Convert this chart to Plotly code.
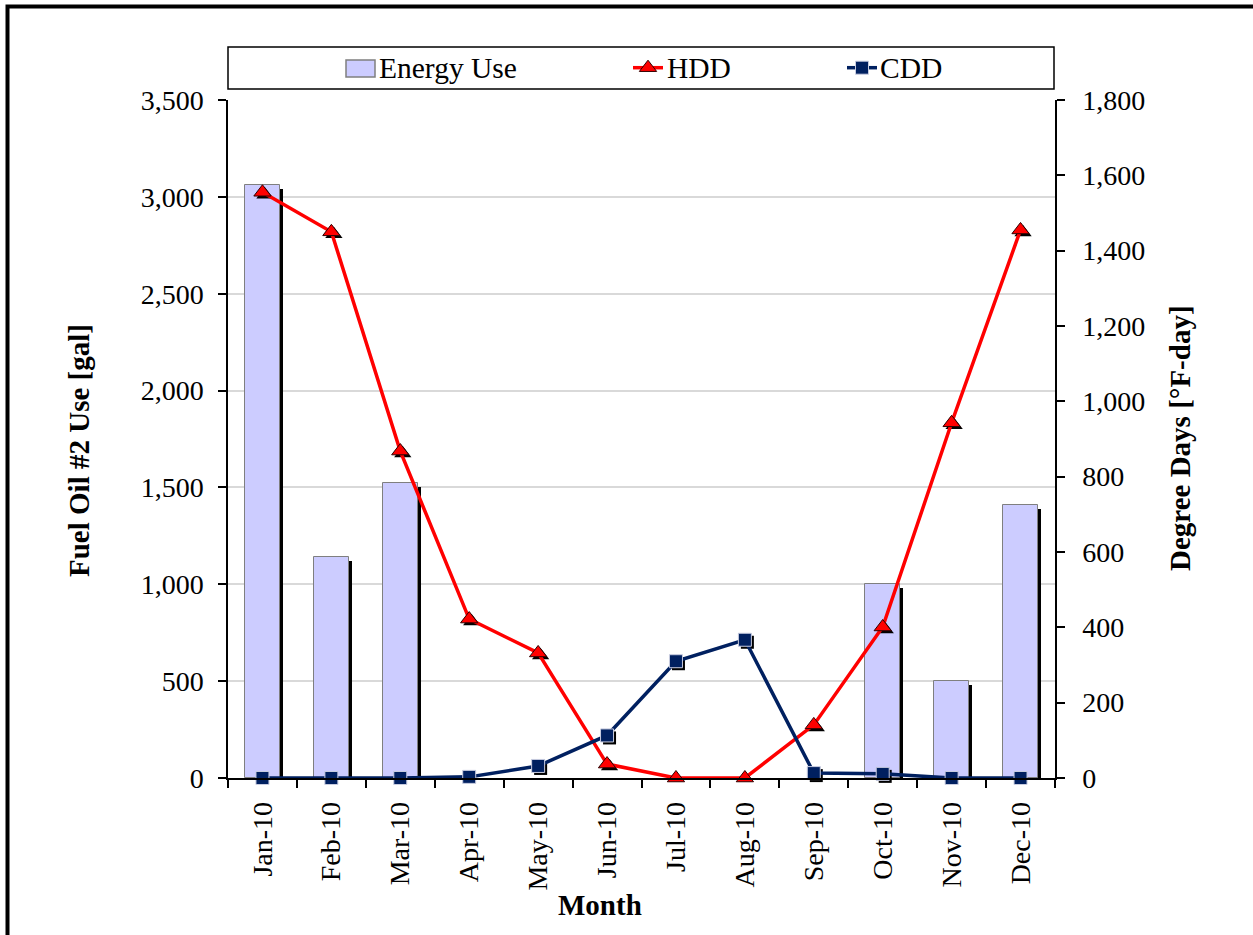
import plotly.graph_objects as go

# Monthly fuel oil use and degree days, 2010
months = ["Jan-10", "Feb-10", "Mar-10", "Apr-10", "May-10", "Jun-10",
          "Jul-10", "Aug-10", "Sep-10", "Oct-10", "Nov-10", "Dec-10"]
energy_use = [3060, 1140, 1525, 0, 0, 0, 0, 0, 0, 1000, 500, 1410]
hdd = [1555, 1450, 868, 422, 332, 37, 0, 0, 141, 401, 943, 1455]
cdd = [0, 0, 0, 3, 32, 113, 310, 367, 13, 11, 0, 0]
series_names = ["Energy Use", "HDD", "CDD"]

left_ticks = list(range(0, 3501, 500))
right_ticks = list(range(0, 1801, 200))

FONT = "Liberation Serif"
RED = "#FF0000"
NAVY = "#002060"
BAR_FILL = "#CCCCFF"
BAR_EDGE = "#7F7F7F"

W, H = 1253, 935
ML, MR, MT, MB = 228, 198, 100, 157
PW, PH = W - ML - MR, H - MT - MB

x = list(range(len(months)))

# shadow offsets (pixels converted to axis units)
cat_px = PW / len(months)
dx_bar = 3.5 / cat_px
dy_bar = 4 * 3500 / PH
dx_mk = 2.5 / cat_px
dy_mk = 2.5 * 1800 / PH


def px_x(p):
    return (p - ML) / PW


def px_y(p):
    return (H - MB - p) / PH


fig = go.Figure()

# bar shadows
fig.add_trace(go.Bar(
    x=x, y=[max(v - dy_bar, 0) for v in energy_use],
    width=0.5, offset=-0.25 + dx_bar,
    marker=dict(color="black", line=dict(width=0)),
    showlegend=False, hoverinfo="skip", yaxis="y",
))
# bars
fig.add_trace(go.Bar(
    x=x, y=energy_use, width=0.5, offset=-0.25, name=series_names[0],
    marker=dict(color=BAR_FILL,
                line=dict(color=BAR_EDGE,
                          width=[1 if v > 0 else 0 for v in energy_use])),
    showlegend=False, yaxis="y",
))

# HDD marker shadows + series
fig.add_trace(go.Scatter(
    x=[v + dx_mk for v in x], y=[v - dy_mk for v in hdd], mode="markers",
    marker=dict(symbol="triangle-up", size=15, color="black"),
    showlegend=False, hoverinfo="skip", yaxis="y2", cliponaxis=False,
))
fig.add_trace(go.Scatter(
    x=x, y=hdd, mode="lines+markers", name=" ",
    hovertemplate=series_names[1] + ": %{y}<extra></extra>",
    line=dict(color=RED, width=3.5),
    marker=dict(symbol="triangle-up", size=15, color=RED,
                line=dict(color="#300000", width=1)),
    legend="legend2", yaxis="y2", cliponaxis=False,
))

# CDD marker shadows + series
fig.add_trace(go.Scatter(
    x=[v + dx_mk for v in x], y=[v - dy_mk for v in cdd], mode="markers",
    marker=dict(symbol="square", size=13, color="black"),
    showlegend=False, hoverinfo="skip", yaxis="y2", cliponaxis=False,
))
fig.add_trace(go.Scatter(
    x=x, y=cdd, mode="lines+markers", name=" ",
    hovertemplate=series_names[2] + ": %{y}<extra></extra>",
    line=dict(color=NAVY, width=3.5),
    marker=dict(symbol="square", size=13, color=NAVY,
                line=dict(color="#C8CCE0", width=1)),
    legend="legend3", yaxis="y2", cliponaxis=False,
))

tickfont = dict(family=FONT, size=28, color="black")
leg_y = px_y(68)


def legend_at(px_left):
    return dict(x=px_x(px_left), y=leg_y, xanchor="left", yanchor="middle",
                orientation="h", bgcolor="rgba(0,0,0,0)", itemwidth=30,
                font=dict(family=FONT, size=28, color="black"))


def legend_label(text, px_left):
    return dict(text=text, xref="paper", yref="paper",
                x=px_x(px_left), y=leg_y, xanchor="left", yanchor="middle",
                showarrow=False, font=dict(family=FONT, size=29.5, color="black"))


fig.update_layout(
    width=W, height=H,
    margin=dict(l=ML, r=MR, t=MT, b=MB, pad=0),
    font=dict(family=FONT, color="black"),
    paper_bgcolor="white", plot_bgcolor="white",
    barmode="overlay", bargap=0,
    xaxis=dict(
        range=[-0.5, len(months) - 0.5],
        tickmode="array", tickvals=x, ticktext=months, tickangle=-90,
        ticks="", ticklen=0, tickfont=tickfont, ticklabelstandoff=11,
        showline=True, linecolor="black", linewidth=1.5,
        showgrid=False, zeroline=False,
        minor=dict(tickmode="array",
                   tickvals=[i - 0.5 for i in range(len(months) + 1)],
                   ticks="outside", ticklen=8, tickcolor="black", tickwidth=1.5,
                   showgrid=False),
    ),
    yaxis=dict(
        range=[0, 3500], tickmode="array", tickvals=left_ticks,
        ticktext=[f"{v:,}" for v in left_ticks],
        ticks="outside", ticklen=8, tickcolor="black", tickwidth=1.5,
        tickfont=tickfont, ticklabelstandoff=9,
        showline=True, linecolor="black", linewidth=1.5,
        showgrid=True, gridcolor="#D9D9D9", gridwidth=1.5, zeroline=False,
    ),
    yaxis2=dict(
        range=[0, 1800], tickmode="array", tickvals=right_ticks,
        ticktext=[f"{v:,}" for v in right_ticks],
        overlaying="y", side="right",
        ticks="outside", ticklen=8, tickcolor="black", tickwidth=1.5,
        tickfont=tickfont, ticklabelstandoff=12,
        showline=True, linecolor="black", linewidth=1.5,
        showgrid=False, zeroline=False,
    ),
    legend2=legend_at(628),
    legend3=legend_at(842),
    shapes=[
        # outer frame
        dict(type="rect", xref="paper", yref="paper",
             x0=px_x(7.5), x1=px_x(W + 20), y0=px_y(H + 20), y1=px_y(6.5),
             line=dict(color="black", width=4), layer="above"),
        # legend box
        dict(type="rect", xref="paper", yref="paper",
             x0=px_x(228), x1=px_x(1054), y0=px_y(89), y1=px_y(47),
             line=dict(color="black", width=1.5), layer="above"),
        # legend swatch for the bars
        dict(type="rect", xref="paper", yref="paper",
             x0=px_x(346), x1=px_x(375), y0=px_y(77), y1=px_y(60),
             fillcolor=BAR_FILL, line=dict(color=BAR_EDGE, width=1.5),
             layer="above"),
    ],
    annotations=[
        legend_label(series_names[0], 377),
        legend_label(series_names[1], 665),
        legend_label(series_names[2], 878),
        dict(text="<b>Fuel Oil #2 Use [gal]</b>", xref="paper", yref="paper",
             x=px_x(79), y=px_y(451), textangle=-90, showarrow=False,
             font=dict(family=FONT, size=29, color="black"),
             xanchor="center", yanchor="middle"),
        dict(text="<b>Degree Days [°F-day]</b>", xref="paper", yref="paper",
             x=px_x(1180), y=px_y(438), textangle=-90, showarrow=False,
             font=dict(family=FONT, size=29, color="black"),
             xanchor="center", yanchor="middle"),
        dict(text="<b>Month</b>", xref="paper", yref="paper",
             x=px_x(600), y=px_y(905), showarrow=False,
             font=dict(family=FONT, size=29, color="black"),
             xanchor="center", yanchor="middle"),
    ],
)

fig.write_html("out.html")
